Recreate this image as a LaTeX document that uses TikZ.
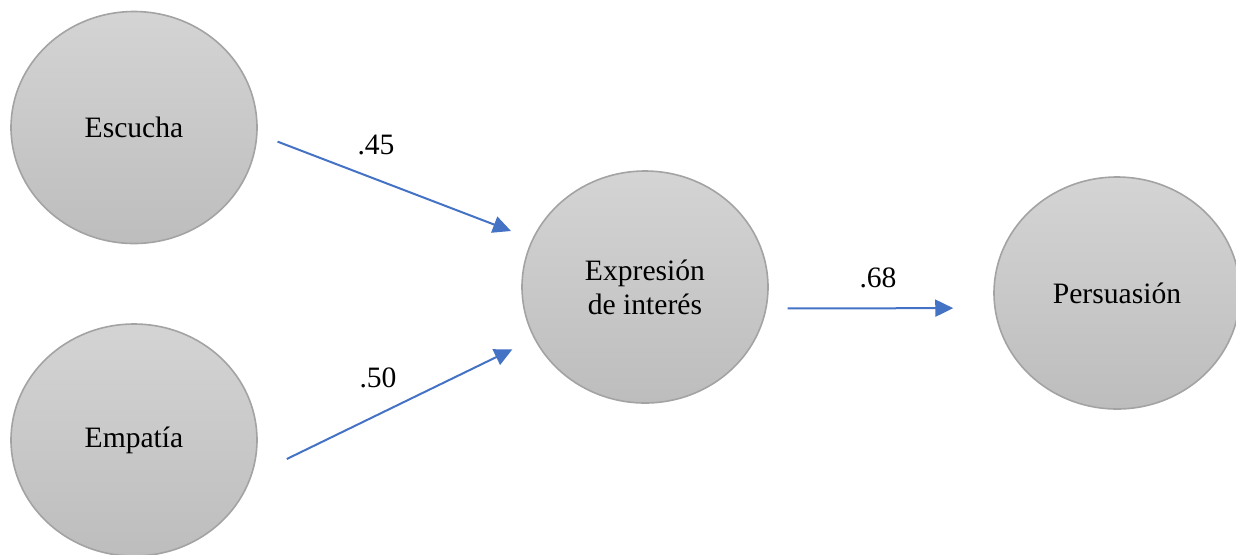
\documentclass[tikz,border=0pt]{standalone}
\usepackage{fontspec}
\setmainfont{Liberation Serif}
\usepackage{xcolor}
\usetikzlibrary{arrows.meta,shapes.geometric}
\definecolor{latTop}{HTML}{D4D4D4}
\definecolor{latBot}{HTML}{BDBDBD}
\definecolor{latLine}{HTML}{A3A3A3}
\definecolor{effBlue}{HTML}{4472C4}
\tikzset{
  latent/.style={ellipse, draw=latLine, line width=0.8pt, top color=latTop,
                 bottom color=latBot, minimum width=123pt, minimum height=116pt,
                 inner sep=0pt, align=center, font=\fontsize{14.8}{17}\selectfont},
  coef/.style={inner sep=0pt, font=\fontsize{14.8}{17}\selectfont},
  effect/.style={draw=effBlue, line width=1pt,
                 -{Triangle[length=9pt, width=8.5pt]}},
}
\begin{document}
\begin{tikzpicture}[x=0.5pt, y=-0.5pt]
  \useasboundingbox (0,0) rectangle (1236,554);
  % constructs
  \node[latent] (esc)  at (134,127.5) {Escucha};
  \node[latent] (emp)  at (134,440)   {Empatía};
  \node[latent] (expr) at (645,287)   {Expresión\\de interés};
  \node[latent] (pers) at (1117,293)  {Persuasión};
  % path coefficients
  \node[coef] (c45) at (376,145) {.45};
  \node[coef] (c50) at (378,378) {.50};
  \node[coef] (c68) at (878,278) {.68};
  % paths
  \draw[effect, shorten <=10.7pt, shorten >=11.3pt] (esc.-3)    -- (expr.157);
  \draw[effect, shorten <=19.5pt, shorten >=12pt]   (emp.-17.5) -- (expr.205);
  \draw[effect, shorten <=10.5pt, shorten >=20.5pt] (expr.-10)  -- (pers.187);
\end{tikzpicture}
\end{document}
